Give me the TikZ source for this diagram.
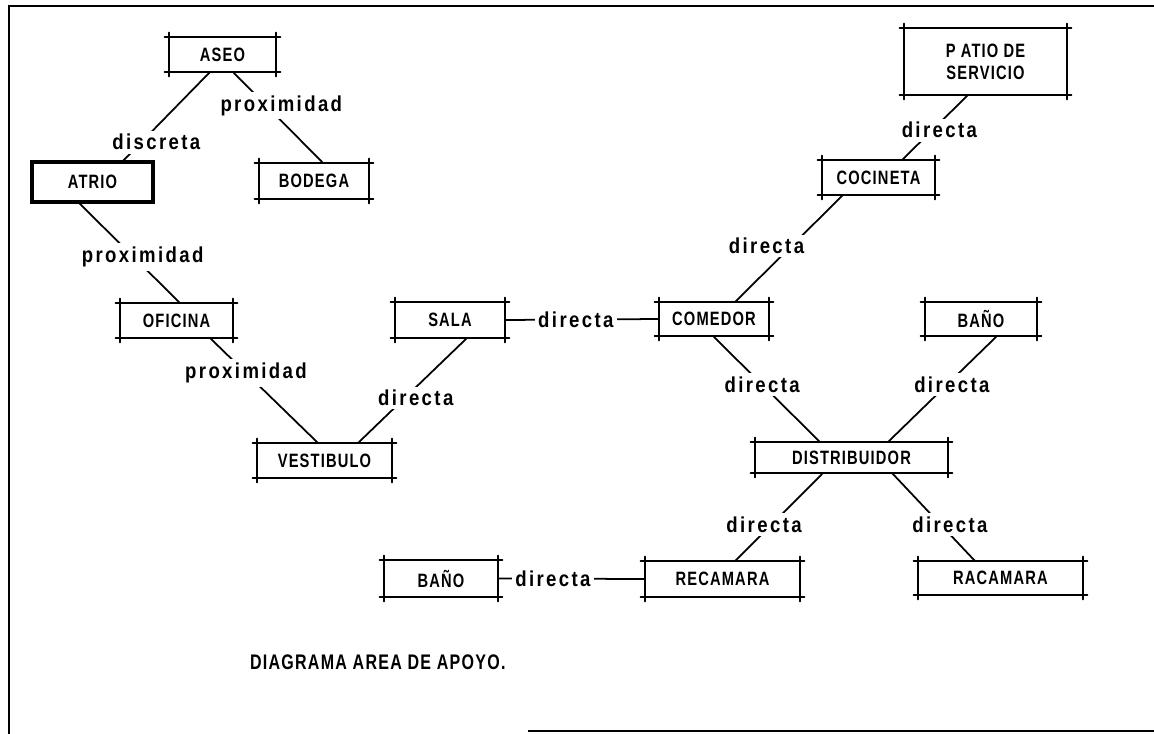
\documentclass[tikz,border=0pt]{standalone}
\usepackage{fontspec}
\setmainfont{Liberation Sans}[FakeStretch=0.86,LetterSpace=11]
\newfontfamily\fuentecaja{Liberation Sans}[FakeStretch=0.76,LetterSpace=6]
\usepackage{tikz}
\usetikzlibrary{calc}
\newcommand{\tamcaja}{\fuentecaja\fontsize{11}{12.5}\selectfont\bfseries}
\newcommand{\tamtitulo}{\fuentecaja\fontsize{12}{14}\selectfont\bfseries}
\newcommand{\tametq}{\fontsize{12.3}{14}\selectfont\bfseries}

\begin{document}
\begin{tikzpicture}[
      x=0.02cm, y=-0.02cm,
      caja/.style={font=\tamcaja, align=center, inner sep=0pt, outer sep=0pt},
      borde/.style={line width=1.2pt, line cap=round},
      grueso/.style={line width=2.6pt},
      etq/.style={font=\tametq, fill=white, inner sep=2pt},
      linea/.style={line width=1pt}
  ]
    \useasboundingbox (0,0) rectangle (1154,734);
    % marco de la hoja
    \draw[line width=1.3pt] (9,734) -- (9,6) -- (1154,6);
    \draw[line width=1.3pt] (528,731) -- (1154,731);

    \node[caja, minimum width=2.14cm, minimum height=0.70cm] (aseo) at (222.5,54.5) {ASEO};
    \node[caja, minimum width=2.42cm, minimum height=0.80cm] (atrio) at (92.5,182) {ATRIO};
    \node[caja, minimum width=2.20cm, minimum height=0.72cm] (bodega) at (314,181) {BODEGA};
    \node[caja, minimum width=3.26cm, minimum height=1.34cm] (patio) at (985.5,61.5) {P ATIO DE\\SERVICIO};
    \node[caja, minimum width=2.26cm, minimum height=0.70cm] (cocineta) at (878.5,177.5) {COCINETA};
    \node[caja, minimum width=2.26cm, minimum height=0.70cm] (oficina) at (176.5,320.5) {OFICINA};
    \node[caja, minimum width=2.20cm, minimum height=0.72cm] (sala) at (450,320) {SALA};
    \node[caja, minimum width=2.20cm, minimum height=0.68cm] (comedor) at (714,319) {COMEDOR};
    \node[caja, minimum width=2.24cm, minimum height=0.68cm] (banoa) at (981,319) {BAÑO};
    \node[caja, minimum width=2.70cm, minimum height=0.70cm] (vestibulo) at (324.5,460.5) {VESTIBULO};
    \node[caja, minimum width=3.86cm, minimum height=0.62cm] (distrib) at (851.5,457.5) {DISTRIBUIDOR};
    \node[caja, minimum width=2.28cm, minimum height=0.74cm] (banob) at (441,578.5) {BAÑO};
    \node[caja, minimum width=3.10cm, minimum height=0.72cm] (recamara) at (722.5,579) {RECAMARA};
    \node[caja, minimum width=3.30cm, minimum height=0.68cm] (racamara) at (1000.5,578) {RACAMARA};
    \node[caja, font=\tamtitulo, anchor=west] (titulo) at (250,662) {DIAGRAMA AREA DE APOYO.};

    % bordes con las esquinas pasadas
    \foreach \n in {aseo,bodega,patio,cocineta,oficina,sala,comedor,banoa,vestibulo,distrib,banob,recamara,racamara}{
      \draw[borde] ([xshift=-2.5pt]\n.north west) -- ([xshift=2.5pt]\n.north east)
                   ([xshift=-2.5pt]\n.south west) -- ([xshift=2.5pt]\n.south east)
                   ([yshift=2.5pt]\n.north west) -- ([yshift=-2.5pt]\n.south west)
                   ([yshift=2.5pt]\n.north east) -- ([yshift=-2.5pt]\n.south east);
    }
    \draw[grueso] (atrio.north west) rectangle (atrio.south east);

    % relaciones
    \draw[linea] ($(aseo.south)+(-12.5,0)$) -- node[etq, pos=0.78, xshift=0.3cm]{discreta} ($(atrio.north)+(29.5,0)$);
    \draw[linea] ($(aseo.south)+(10.5,0)$) -- node[etq, pos=0.37, xshift=0.3cm]{proximidad} ($(bodega.north)+(9,0)$);
    \draw[linea] ($(atrio.south)+(-14.5,0)$) -- node[etq, pos=0.545, xshift=0.18cm]{proximidad} ($(oficina.north)+(3.5,0)$);
    \draw[linea] ($(oficina.south)+(33.5,0)$) -- node[etq, pos=0.333]{proximidad} ($(vestibulo.north)+(-6.5,0)$);
    \draw[linea] ($(sala.south)+(17,0)$) -- node[etq, pos=0.571, xshift=0.22cm]{directa} ($(vestibulo.north)+(33.5,0)$);
    \draw[linea] (sala.east) -- node[etq, pos=0.46]{directa} (comedor.west);
    \draw[linea] ($(comedor.north)+(21,0)$) -- node[etq, pos=0.523, xshift=-0.5cm]{directa} ($(cocineta.south)+(-35.5,0)$);
    \draw[linea] ($(cocineta.north)+(23.5,0)$) -- node[etq, pos=0.46, xshift=0.14cm]{directa} ($(patio.south)+(-17.5,0)$);
    \draw[linea] ($(comedor.south)+(-1,0)$) -- node[etq, pos=0.46]{directa} ($(distrib.north)+(-31.5,0)$);
    \draw[linea] ($(banoa.south)+(16,0)$) -- node[etq, pos=0.46, xshift=0.1cm]{directa} ($(distrib.north)+(36.5,0)$);
    \draw[linea] ($(distrib.south)+(-28.5,0)$) -- node[etq, pos=0.59, xshift=-0.14cm]{directa} ($(recamara.north)+(12.5,0)$);
    \draw[linea] ($(distrib.south)+(40.5,0)$) -- node[etq, pos=0.59, xshift=0.18cm]{directa} ($(racamara.north)+(-25.5,0)$);
    \draw[linea] (banob.east) -- node[etq, pos=0.374]{directa} (recamara.west);
  \end{tikzpicture}
\end{document}
